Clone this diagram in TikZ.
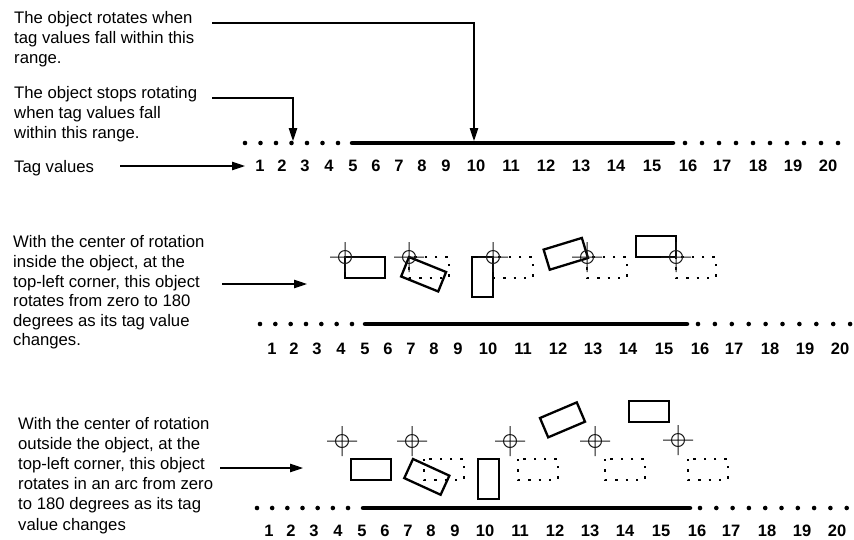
\documentclass[tikz,border=0pt]{standalone}
\usepackage{fontspec}
\setmainfont{Liberation Sans}
\usetikzlibrary{arrows.meta}
\newcommand\xhair[1]{\draw[xh, shift={(#1)}] (-15,0) -- (15,0) (0,-15) -- (0,15) (0,0) circle[radius=6.5];}
\newcommand\objrect[2]{\draw[objline, shift={(#1)}, rotate=-#2] (0,0) rectangle (40,21);}
\newcommand\dotrect[1]{\draw[dotline, shift={(#1)}] (0,0) rectangle (40,21);}
\begin{document}
\begin{tikzpicture}[x=1pt,y=-1pt,
  txt/.style={inner sep=0pt, anchor=north west, align=left},
  num/.style={font=\fontsize{16.5}{20}\selectfont\bfseries, inner sep=0pt, anchor=base},
  arr/.style={line width=1.1pt, -{Triangle[length=13pt,width=8.5pt]}},
  xh/.style={line width=1pt, draw=black!90},
  objline/.style={line width=2.3pt, draw=black},
  dotline/.style={line width=2.4pt, draw=black, dash pattern=on 2.4pt off 8pt},
  solidline/.style={line width=4.5pt, line cap=round}]
\useasboundingbox (0,0) rectangle (854,539);

% ---------- texts ----------
\node[txt, font=\fontsize{16.7}{20}\selectfont] (p1) at (14,10.8)
  {The object rotates when\\tag values fall within this\\range.};
\node[txt, font=\fontsize{16.7}{20}\selectfont] (p2) at (14,86.3)
  {The object stops rotating\\when tag values fall\\within this range.};
\node[inner sep=0pt, anchor=base west, font=\fontsize{16.7}{20}\selectfont] (tv) at (14,172) {Tag values};
\node[txt, font=\fontsize{16.7}{19.6}\selectfont] (p3) at (13,235.5)
  {With the center of rotation\\inside the object, at the\\top-left corner, this object\\rotates from zero to 180\\degrees as its tag value\\changes.};
\node[txt, font=\fontsize{16.7}{20.2}\selectfont] (p4) at (18,416.8)
  {With the center of rotation\\outside the object, at the\\top-left corner, this object\\rotates in an arc from zero\\to 180 degrees as its tag\\value changes};

% ---------- numbers ----------
\foreach \n/\x in {1/260,2/282,3/305,4/329,5/353,6/376,7/399,8/422,9/446,10/476,11/511,12/546,13/581,14/616,15/652,16/688,17/722,18/758,19/793,20/828}{
  \node[num] (t\n) at (\x,171) {\n};
  \node[num] (m\n) at (\x+12,354) {\n};
  \node[num] (b\n) at (\x+9,536) {\n};
}

% ---------- number lines ----------
\foreach \i in {0,...,6}{\fill (245+15.5*\i,143) circle[radius=2.3];}
\draw[solidline] (352,143) -- (673,143);
\foreach \i in {0,...,9}{\fill (685+17*\i,143) circle[radius=2.3];}

\foreach \i in {0,...,6}{\fill (260+15.33*\i,324) circle[radius=2.3];}
\draw[solidline] (365,324) -- (687,324);
\foreach \i in {0,...,9}{\fill (698+16.9*\i,324) circle[radius=2.3];}

\foreach \i in {0,...,6}{\fill (257+15.17*\i,508) circle[radius=2.3];}
\draw[solidline] (363,508) -- (690,508);
\foreach \i in {0,...,9}{\fill (700+16.3*\i,508) circle[radius=2.3];}

% ---------- arrows ----------
\coordinate (s1) at (212,23);
\coordinate (e1) at (474,141);
\draw[arr] (s1) -| (e1);
\coordinate (s2) at (212,98);
\coordinate (e2) at (293,141);
\draw[arr] (s2) -| (e2);
\coordinate (tvs) at (120,166);
\coordinate (tve) at (245,166);
\draw[arr] (tvs) -- (tve);
\coordinate (ms) at (222,284);
\coordinate (me) at (307,284);
\draw[arr] (ms) -- (me);
\coordinate (bs) at (220,468);
\coordinate (be) at (303,468);
\draw[arr] (bs) -- (be);

% ---------- middle: rotation inside ----------
\dotrect{409,257}
\dotrect{493,257}
\dotrect{587,257}
\dotrect{676,257}
\objrect{345,257}{0}
\objrect{409,257}{22}
\objrect{493,257}{90}
\objrect{588,258}{163}
\objrect{676,257}{180}
\xhair{345,257}
\xhair{409,257}
\xhair{493,257}
\xhair{587,257}
\xhair{676,257}

% ---------- bottom: rotation outside ----------
\dotrect{424,459}
\dotrect{518,459}
\dotrect{605,459}
\dotrect{688,459}
\objrect{351,459}{0}
\objrect{413,459}{24.6}
\objrect{499,459}{90}
\objrect{585,421.7}{157}
\objrect{669,422}{180}
\xhair{342,441}
\xhair{412,441}
\xhair{510,441}
\xhair{595,441}
\xhair{678,440}
\end{tikzpicture}
\end{document}
